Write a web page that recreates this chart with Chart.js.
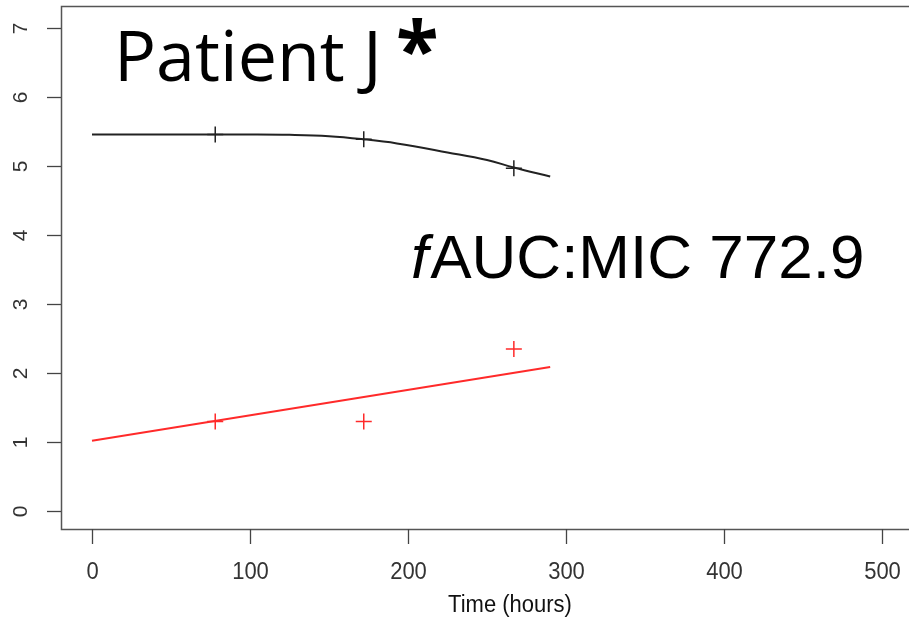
<!DOCTYPE html>
<html>
<head>
<meta charset="utf-8">
<script src="https://cdn.jsdelivr.net/npm/chart.js@4/dist/chart.umd.min.js"></script>
<style>
html,body{margin:0;padding:0;background:#fff;overflow:hidden;}
#wrap{width:909px;height:619px;position:relative;}
</style>
</head>
<body>
<div id="wrap"><canvas id="c" width="909" height="619"></canvas></div>
<script>
// ---- data ----
const xTicks = [0, 100, 200, 300, 400, 500];
const yTicks = [0, 1, 2, 3, 4, 5, 6, 7];
const obsTimes = [78, 172, 267];
const blackObs = [5.45, 5.38, 4.96];
const redObs = [1.29, 1.29, 2.34];
const blackCurveX = [0, 50, 100, 125, 150, 172, 193, 225, 250, 267, 290];
const blackCurveY = [5.45, 5.45, 5.45, 5.445, 5.425, 5.38, 5.32, 5.19, 5.08, 4.97, 4.84];
const redLineX = [0, 290];
const redLineY = [1.01, 2.08];
const titleText = 'Patient J';
const starText = '*';
const noteItalic = 'f';
const noteText = 'AUC:MIC 772.9';
const xTitle = 'Time (hours)';

const pts = (xs, ys) => xs.map((x, i) => ({x: x, y: ys[i]}));

const axisPlugin = {
  id: 'rAxes',
  afterDraw(chart) {
    const ctx = chart.ctx;
    const a = chart.chartArea;
    const xs = chart.scales.x, ys = chart.scales.y;
    ctx.save();
    // box (top, left, bottom)
    ctx.strokeStyle = '#555';
    ctx.lineWidth = 1.5;
    ctx.beginPath();
    ctx.moveTo(a.right + 2, a.top + 0.5);
    ctx.lineTo(a.left + 0.5, a.top + 0.5);
    ctx.lineTo(a.left + 0.5, a.bottom + 0.5);
    ctx.lineTo(a.right + 2, a.bottom + 0.5);
    ctx.stroke();
    // x ticks
    ctx.strokeStyle = '#444';
    ctx.lineWidth = 1.3;
    ctx.fillStyle = '#333';
    ctx.font = '22px "Liberation Sans", Arial, sans-serif';
    ctx.textAlign = 'center';
    ctx.textBaseline = 'middle';
    xTicks.forEach(v => {
      const px = Math.round(xs.getPixelForValue(v)) + 0.5;
      ctx.beginPath();
      ctx.moveTo(px, a.bottom);
      ctx.lineTo(px, a.bottom + 15);
      ctx.stroke();
      ctx.save();
      ctx.translate(px, a.bottom + 43);
      ctx.scale(1, 1.12);
      ctx.fillText(String(v), 0, 0);
      ctx.restore();
    });
    // y ticks
    ctx.font = '21px "Liberation Sans", Arial, sans-serif';
    yTicks.forEach(v => {
      const py = Math.round(ys.getPixelForValue(v)) + 0.5;
      ctx.beginPath();
      ctx.moveTo(a.left, py);
      ctx.lineTo(a.left - 14, py);
      ctx.stroke();
      ctx.save();
      ctx.translate(21, py);
      ctx.rotate(-Math.PI / 2);
      ctx.fillText(String(v), 0, 0);
      ctx.restore();
    });
    // x axis title
    ctx.fillStyle = '#111';
    ctx.font = '22px "Liberation Sans", Arial, sans-serif';
    ctx.save();
    ctx.translate(510, 605);
    ctx.scale(1, 1.1);
    ctx.fillText(xTitle, 0, 0);
    ctx.restore();
    // title annotation
    ctx.fillStyle = '#000';
    ctx.textAlign = 'left';
    ctx.textBaseline = 'alphabetic';
    ctx.font = '70px "Open Sans", "Noto Sans", sans-serif';
    ctx.fillText(titleText, 114, 81);
    ctx.font = 'bold 78px "Open Sans", "Noto Sans", sans-serif';
    ctx.fillText(starText, 396, 78);
    // fAUC:MIC note
    ctx.font = 'italic 62px "Liberation Sans", Arial, sans-serif';
    ctx.fillText(noteItalic, 411, 278);
    const fw = ctx.measureText(noteItalic).width;
    ctx.font = '62px "Liberation Sans", Arial, sans-serif';
    ctx.fillText(noteText, 411 + fw + 2, 278);
    ctx.restore();
  }
};

new Chart(document.getElementById('c'), {
  type: 'scatter',
  data: {
    datasets: [
      {
        data: pts(blackCurveX, blackCurveY),
        showLine: true,
        borderColor: '#222',
        borderWidth: 2,
        pointRadius: 0,
        tension: 0.4,
        fill: false
      },
      {
        data: pts(obsTimes, blackObs),
        showLine: false,
        pointStyle: 'cross',
        pointRadius: 8,
        pointBorderWidth: 1.5,
        pointBorderColor: '#222',
        pointBackgroundColor: '#222'
      },
      {
        data: pts(redLineX, redLineY),
        showLine: true,
        borderColor: '#ff2a2a',
        borderWidth: 2,
        pointRadius: 0,
        fill: false
      },
      {
        data: pts(obsTimes, redObs),
        showLine: false,
        pointStyle: 'cross',
        pointRadius: 8,
        pointBorderWidth: 1.5,
        pointBorderColor: '#ff2a2a',
        pointBackgroundColor: '#ff2a2a'
      }
    ]
  },
  options: {
    responsive: false,
    animation: false,
    events: [],
    layout: {autoPadding: false, padding: {top: 6, left: 0, right: 0, bottom: 0}},
    plugins: {legend: {display: false}, tooltip: {enabled: false}},
    scales: {
      x: {
        type: 'linear',
        min: -19.62,
        max: 517.1,
        grid: {display: false},
        border: {display: false},
        ticks: {display: false},
        afterFit(s) { s.height = 90; }
      },
      y: {
        type: 'linear',
        min: -0.268,
        max: 7.312,
        grid: {display: false},
        border: {display: false},
        ticks: {display: false},
        afterFit(s) { s.width = 61; }
      }
    }
  },
  plugins: [axisPlugin]
});
</script>
</body>
</html>
